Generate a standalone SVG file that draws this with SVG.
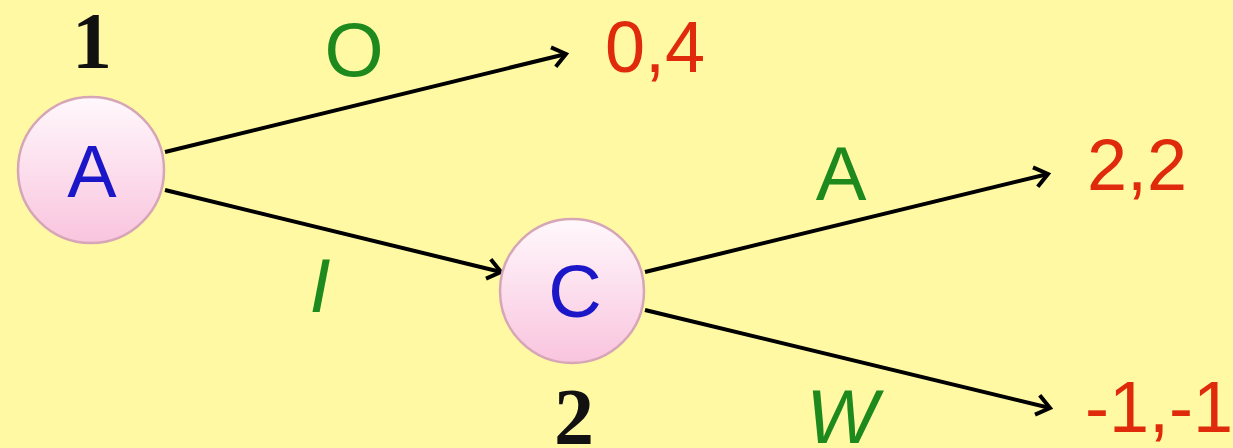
<svg xmlns="http://www.w3.org/2000/svg" width="1233" height="448" viewBox="0 0 1233 448">
  <defs>
    <linearGradient id="ball" x1="0" y1="0" x2="0" y2="1">
      <stop offset="0" stop-color="#FFF8FC"/>
      <stop offset="1" stop-color="#F9C4DE"/>
    </linearGradient>
    <marker id="arr" markerUnits="userSpaceOnUse" markerWidth="30" markerHeight="30" viewBox="-20 -15 30 30" refX="0" refY="0" orient="auto">
      <path d="M -13 -10 L 0 0 L -13 10" fill="none" stroke="#000" stroke-width="4" stroke-linejoin="miter"/>
    </marker>
    <style>
      .node { fill: url(#ball); stroke: #D6A6B6; stroke-width: 2.5; }
      .nlabel { font-family: "Liberation Sans", Arial, sans-serif; font-size: 74px; fill: #1B16C8; text-anchor: middle; }
      .player { font-family: "Liberation Serif", "Times New Roman", serif; font-weight: bold; font-size: 80px; fill: #111; text-anchor: middle; }
      .act { font-family: "Liberation Sans", Arial, sans-serif; font-size: 76px; fill: #1E8A1E; text-anchor: middle; }
      .it { font-style: italic; }
      .pay { font-family: "Liberation Sans", Arial, sans-serif; font-size: 72px; fill: #E02A0C; }
      .edge { stroke: #000; stroke-width: 4; fill: none; marker-end: url(#arr); }
    </style>
  </defs>
  <rect width="1233" height="448" fill="#FFF9A4"/>
  <g id="connectors">
    <line class="edge" x1="165" y1="152" x2="566" y2="54"/>
    <line class="edge" x1="165" y1="190" x2="501" y2="272"/>
    <line class="edge" x1="645" y1="272" x2="1048" y2="174"/>
    <line class="edge" x1="645" y1="310" x2="1050" y2="408"/>
  </g>
  <g id="node-A">
    <circle class="node" cx="91" cy="170" r="73"/>
    <text class="nlabel" x="92" y="197">A</text>
    <text class="player" x="92" y="68">1</text>
  </g>
  <g id="node-C">
    <circle class="node" cx="572" cy="291" r="72"/>
    <text class="nlabel" x="575" y="317">C</text>
    <text class="player" x="574" y="444">2</text>
  </g>
  <g id="leaf-04">
    <text class="pay" x="605" y="72">0,4</text>
  </g>
  <g id="leaf-22">
    <text class="pay" x="1087" y="190">2,2</text>
  </g>
  <g id="leaf-m1m1">
    <text class="pay" x="1085" y="432">-1,-1</text>
  </g>
  <g id="edge-labels">
    <text class="act" x="354" y="76">O</text>
    <text class="act it" x="320" y="312">I</text>
    <text class="act" x="841" y="200">A</text>
    <text class="act it" x="842" y="443" font-size="84">W</text>
  </g>
</svg>
